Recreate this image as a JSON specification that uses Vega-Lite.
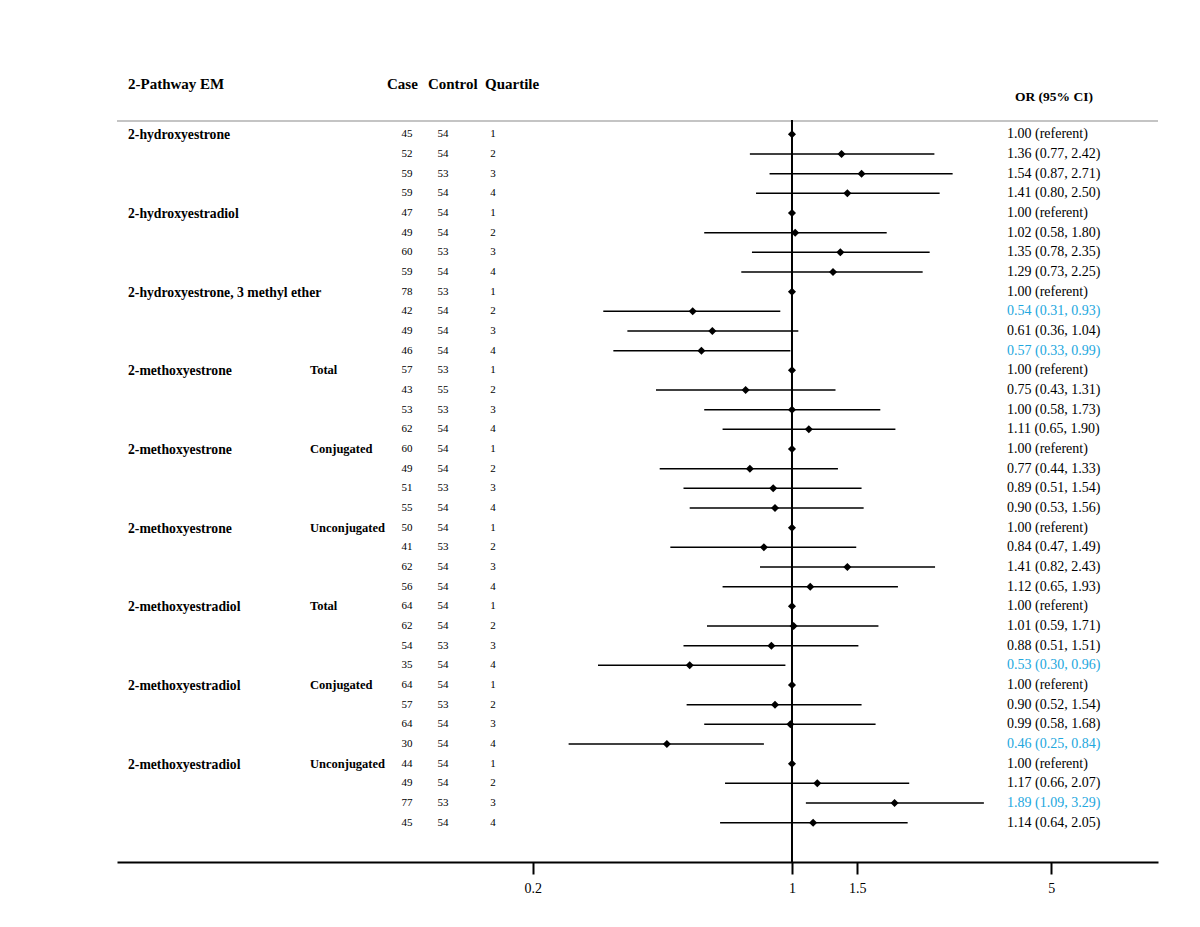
{
  "$schema": "https://vega.github.io/schema/vega-lite/v6.json",
  "width": 1041,
  "height": 826,
  "autosize": "none",
  "padding": {"left": 117, "top": 36, "right": 42, "bottom": 65},
  "background": "white",
  "config": {
    "view": {"stroke": null},
    "font": "Liberation Serif",
    "text": {"font": "Liberation Serif", "color": "black"},
    "axis": {"labelFont": "Liberation Serif", "labelFontSize": 14, "labelColor": "black"}
  },
  "datasets": {
    "one": [{}],
    "rows": [
      {"row": 1, "label": "2-hydroxyestrone", "sub": "", "case": 45, "control": 54, "q": 1, "or": 1.00, "lo": null, "hi": null, "txt": "1.00 (referent)", "sig": false},
      {"row": 2, "case": 52, "control": 54, "q": 2, "or": 1.36, "lo": 0.77, "hi": 2.42, "txt": "1.36 (0.77, 2.42)", "sig": false},
      {"row": 3, "case": 59, "control": 53, "q": 3, "or": 1.54, "lo": 0.87, "hi": 2.71, "txt": "1.54 (0.87, 2.71)", "sig": false},
      {"row": 4, "case": 59, "control": 54, "q": 4, "or": 1.41, "lo": 0.80, "hi": 2.50, "txt": "1.41 (0.80, 2.50)", "sig": false},
      {"row": 5, "label": "2-hydroxyestradiol", "sub": "", "case": 47, "control": 54, "q": 1, "or": 1.00, "lo": null, "hi": null, "txt": "1.00 (referent)", "sig": false},
      {"row": 6, "case": 49, "control": 54, "q": 2, "or": 1.02, "lo": 0.58, "hi": 1.80, "txt": "1.02 (0.58, 1.80)", "sig": false},
      {"row": 7, "case": 60, "control": 53, "q": 3, "or": 1.35, "lo": 0.78, "hi": 2.35, "txt": "1.35 (0.78, 2.35)", "sig": false},
      {"row": 8, "case": 59, "control": 54, "q": 4, "or": 1.29, "lo": 0.73, "hi": 2.25, "txt": "1.29 (0.73, 2.25)", "sig": false},
      {"row": 9, "label": "2-hydroxyestrone, 3 methyl ether", "sub": "", "case": 78, "control": 53, "q": 1, "or": 1.00, "lo": null, "hi": null, "txt": "1.00 (referent)", "sig": false},
      {"row": 10, "case": 42, "control": 54, "q": 2, "or": 0.54, "lo": 0.31, "hi": 0.93, "txt": "0.54 (0.31, 0.93)", "sig": true},
      {"row": 11, "case": 49, "control": 54, "q": 3, "or": 0.61, "lo": 0.36, "hi": 1.04, "txt": "0.61 (0.36, 1.04)", "sig": false},
      {"row": 12, "case": 46, "control": 54, "q": 4, "or": 0.57, "lo": 0.33, "hi": 0.99, "txt": "0.57 (0.33, 0.99)", "sig": true},
      {"row": 13, "label": "2-methoxyestrone", "sub": "Total", "case": 57, "control": 53, "q": 1, "or": 1.00, "lo": null, "hi": null, "txt": "1.00 (referent)", "sig": false},
      {"row": 14, "case": 43, "control": 55, "q": 2, "or": 0.75, "lo": 0.43, "hi": 1.31, "txt": "0.75 (0.43, 1.31)", "sig": false},
      {"row": 15, "case": 53, "control": 53, "q": 3, "or": 1.00, "lo": 0.58, "hi": 1.73, "txt": "1.00 (0.58, 1.73)", "sig": false},
      {"row": 16, "case": 62, "control": 54, "q": 4, "or": 1.11, "lo": 0.65, "hi": 1.90, "txt": "1.11 (0.65, 1.90)", "sig": false},
      {"row": 17, "label": "2-methoxyestrone", "sub": "Conjugated", "case": 60, "control": 54, "q": 1, "or": 1.00, "lo": null, "hi": null, "txt": "1.00 (referent)", "sig": false},
      {"row": 18, "case": 49, "control": 54, "q": 2, "or": 0.77, "lo": 0.44, "hi": 1.33, "txt": "0.77 (0.44, 1.33)", "sig": false},
      {"row": 19, "case": 51, "control": 53, "q": 3, "or": 0.89, "lo": 0.51, "hi": 1.54, "txt": "0.89 (0.51, 1.54)", "sig": false},
      {"row": 20, "case": 55, "control": 54, "q": 4, "or": 0.90, "lo": 0.53, "hi": 1.56, "txt": "0.90 (0.53, 1.56)", "sig": false},
      {"row": 21, "label": "2-methoxyestrone", "sub": "Unconjugated", "case": 50, "control": 54, "q": 1, "or": 1.00, "lo": null, "hi": null, "txt": "1.00 (referent)", "sig": false},
      {"row": 22, "case": 41, "control": 53, "q": 2, "or": 0.84, "lo": 0.47, "hi": 1.49, "txt": "0.84 (0.47, 1.49)", "sig": false},
      {"row": 23, "case": 62, "control": 54, "q": 3, "or": 1.41, "lo": 0.82, "hi": 2.43, "txt": "1.41 (0.82, 2.43)", "sig": false},
      {"row": 24, "case": 56, "control": 54, "q": 4, "or": 1.12, "lo": 0.65, "hi": 1.93, "txt": "1.12 (0.65, 1.93)", "sig": false},
      {"row": 25, "label": "2-methoxyestradiol", "sub": "Total", "case": 64, "control": 54, "q": 1, "or": 1.00, "lo": null, "hi": null, "txt": "1.00 (referent)", "sig": false},
      {"row": 26, "case": 62, "control": 54, "q": 2, "or": 1.01, "lo": 0.59, "hi": 1.71, "txt": "1.01 (0.59, 1.71)", "sig": false},
      {"row": 27, "case": 54, "control": 53, "q": 3, "or": 0.88, "lo": 0.51, "hi": 1.51, "txt": "0.88 (0.51, 1.51)", "sig": false},
      {"row": 28, "case": 35, "control": 54, "q": 4, "or": 0.53, "lo": 0.30, "hi": 0.96, "txt": "0.53 (0.30, 0.96)", "sig": true},
      {"row": 29, "label": "2-methoxyestradiol", "sub": "Conjugated", "case": 64, "control": 54, "q": 1, "or": 1.00, "lo": null, "hi": null, "txt": "1.00 (referent)", "sig": false},
      {"row": 30, "case": 57, "control": 53, "q": 2, "or": 0.90, "lo": 0.52, "hi": 1.54, "txt": "0.90 (0.52, 1.54)", "sig": false},
      {"row": 31, "case": 64, "control": 54, "q": 3, "or": 0.99, "lo": 0.58, "hi": 1.68, "txt": "0.99 (0.58, 1.68)", "sig": false},
      {"row": 32, "case": 30, "control": 54, "q": 4, "or": 0.46, "lo": 0.25, "hi": 0.84, "txt": "0.46 (0.25, 0.84)", "sig": true},
      {"row": 33, "label": "2-methoxyestradiol", "sub": "Unconjugated", "case": 44, "control": 54, "q": 1, "or": 1.00, "lo": null, "hi": null, "txt": "1.00 (referent)", "sig": false},
      {"row": 34, "case": 49, "control": 54, "q": 2, "or": 1.17, "lo": 0.66, "hi": 2.07, "txt": "1.17 (0.66, 2.07)", "sig": false},
      {"row": 35, "case": 77, "control": 53, "q": 3, "or": 1.89, "lo": 1.09, "hi": 3.29, "txt": "1.89 (1.09, 3.29)", "sig": true},
      {"row": 36, "case": 45, "control": 54, "q": 4, "or": 1.14, "lo": 0.64, "hi": 2.05, "txt": "1.14 (0.64, 2.05)", "sig": false}
    ]
  },
  "data": {"name": "rows"},
  "layer": [
    {
      "data": {"name": "one"},
      "mark": {"type": "rule", "color": "#c4c4c4", "strokeWidth": 2},
      "encoding": {"y": {"datum": 0.32, "type": "quantitative", "scale": {"domain": [-4, 38], "reverse": true, "nice": false, "zero": false}, "axis": null}}
    },
    {
      "data": {"name": "one"},
      "mark": {"type": "rule", "color": "black", "strokeWidth": 2},
      "encoding": {
        "x": {"datum": 1, "type": "quantitative", "scale": {"type": "log", "domain": [0.01516, 9.694], "nice": false, "zero": false},
          "axis": {"values": [0.2, 1, 1.5, 5], "format": "~g", "title": null, "grid": false, "domainColor": "black", "domainWidth": 2, "tickColor": "black", "tickWidth": 2, "tickSize": 12, "labelFont": "Liberation Serif", "labelFontSize": 14, "labelColor": "black", "labelPadding": 7, "labelFlush": false}},
        "y": {"datum": 0.27, "type": "quantitative"},
        "y2": {"datum": 38}
      }
    },
    {
      "transform": [{"filter": "datum.lo != null"}],
      "mark": {"type": "rule", "color": "black", "strokeWidth": 1.5},
      "encoding": {
        "x": {"field": "lo", "type": "quantitative"},
        "x2": {"field": "hi"},
        "y": {"field": "row", "type": "quantitative"}
      }
    },
    {
      "mark": {"type": "point", "shape": "diamond", "filled": true, "color": "black", "opacity": 1, "size": 65},
      "encoding": {"x": {"field": "or", "type": "quantitative"}, "y": {"field": "row", "type": "quantitative"}}
    },
    {
      "transform": [{"filter": "datum.label != null"}],
      "mark": {"type": "text", "align": "left", "baseline": "middle", "fontWeight": "bold", "fontSize": 13.7, "dy": 1},
      "encoding": {"x": {"datum": 0.01623}, "y": {"field": "row", "type": "quantitative"}, "text": {"field": "label"}}
    },
    {
      "transform": [{"filter": "datum.sub != null && datum.sub != ''"}],
      "mark": {"type": "text", "align": "left", "baseline": "middle", "fontWeight": "bold", "fontSize": 12.5},
      "encoding": {"x": {"datum": 0.05022}, "y": {"field": "row", "type": "quantitative"}, "text": {"field": "sub"}}
    },
    {
      "mark": {"type": "text", "align": "center", "baseline": "middle", "fontSize": 11},
      "encoding": {"x": {"datum": 0.0917}, "y": {"field": "row", "type": "quantitative"}, "text": {"field": "case"}}
    },
    {
      "mark": {"type": "text", "align": "center", "baseline": "middle", "fontSize": 11},
      "encoding": {"x": {"datum": 0.1146}, "y": {"field": "row", "type": "quantitative"}, "text": {"field": "control"}}
    },
    {
      "mark": {"type": "text", "align": "center", "baseline": "middle", "fontSize": 11},
      "encoding": {"x": {"datum": 0.1564}, "y": {"field": "row", "type": "quantitative"}, "text": {"field": "q"}}
    },
    {
      "mark": {"type": "text", "align": "left", "baseline": "middle", "fontSize": 14},
      "encoding": {
        "x": {"datum": 3.797},
        "y": {"field": "row", "type": "quantitative"},
        "text": {"field": "txt"},
        "color": {"condition": {"test": "datum.sig", "value": "#22a7de"}, "value": "black"}
      }
    },
    {
      "data": {"name": "one"},
      "mark": {"type": "text", "align": "left", "baseline": "middle", "fontWeight": "bold", "fontSize": 15, "text": "2-Pathway EM"},
      "encoding": {"x": {"datum": 0.01623}, "y": {"datum": -1.56, "type": "quantitative"}}
    },
    {
      "data": {"name": "one"},
      "mark": {"type": "text", "align": "left", "baseline": "middle", "fontWeight": "bold", "fontSize": 15, "text": "Case"},
      "encoding": {"x": {"datum": 0.081}, "y": {"datum": -1.56, "type": "quantitative"}}
    },
    {
      "data": {"name": "one"},
      "mark": {"type": "text", "align": "left", "baseline": "middle", "fontWeight": "bold", "fontSize": 15, "text": "Control"},
      "encoding": {"x": {"datum": 0.1044}, "y": {"datum": -1.56, "type": "quantitative"}}
    },
    {
      "data": {"name": "one"},
      "mark": {"type": "text", "align": "left", "baseline": "middle", "fontWeight": "bold", "fontSize": 15, "text": "Quartile"},
      "encoding": {"x": {"datum": 0.1488}, "y": {"datum": -1.56, "type": "quantitative"}}
    },
    {
      "data": {"name": "one"},
      "mark": {"type": "text", "align": "left", "baseline": "middle", "fontWeight": "bold", "fontSize": 13.5, "text": "OR (95% CI)"},
      "encoding": {"x": {"datum": 3.99}, "y": {"datum": -0.9, "type": "quantitative"}}
    }
  ]
}
